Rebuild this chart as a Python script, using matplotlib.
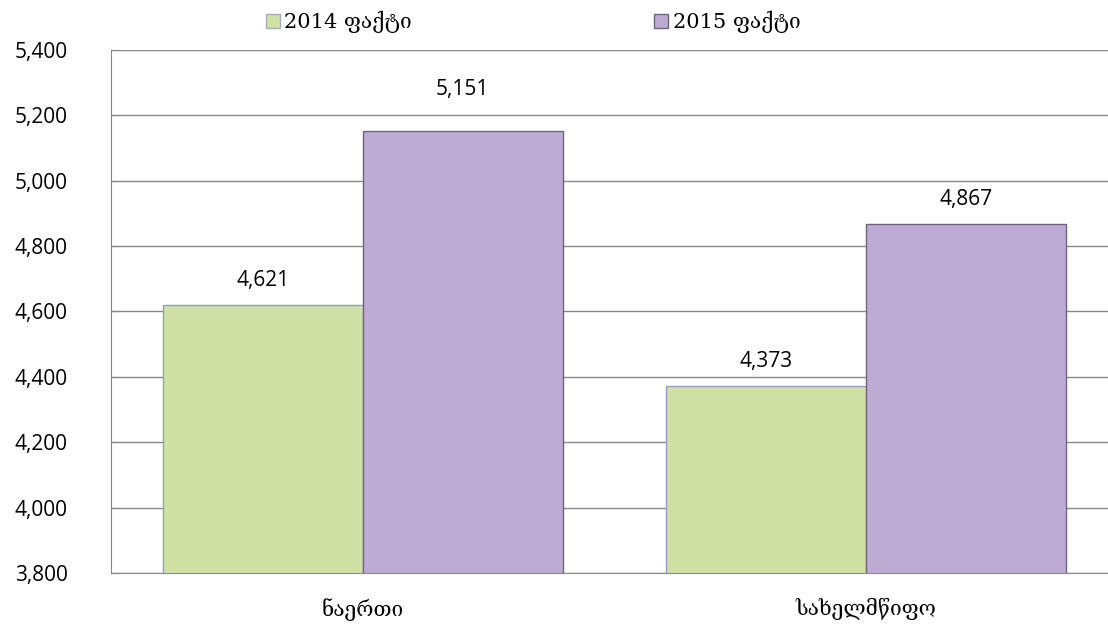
import numpy as np
import matplotlib.pyplot as plt
from matplotlib.patches import Patch

categories = ["ნაერთი", "სახელმწიფო"]
series_names = ["2014 ფაქტი", "2015 ფაქტი"]
values_2014 = [4621, 4373]
values_2015 = [5151, 4867]

GREEN = "#D1E1A6"
PURPLE = "#BDABD3"
SERIF = ["DejaVu Serif", "DejaVu Sans"]

plt.rcParams["font.family"] = ["Open Sans", "DejaVu Sans"]

fig = plt.figure(figsize=(11.08, 6.26), dpi=100)
ax = fig.add_axes([111 / 1108, 1 - 573 / 626, (1108 - 111) / 1108, (573 - 50) / 626])

x = np.arange(len(categories))
width = 200 / 504

bars1 = ax.bar(x - width / 2, values_2014, width, color=GREEN,
               edgecolor="#8FA3BF", linewidth=1.0, zorder=3)
bars2 = ax.bar(x + width / 2, values_2015, width, color=PURPLE,
               edgecolor="#6E6480", linewidth=1.0, zorder=3)

# label offsets (data units) above each bar; the tallest label sits a bit higher
label_offsets = [[42, 42], [95, 42]]
for bars, offs in zip((bars1, bars2), label_offsets):
    for b, off in zip(bars, offs):
        h = b.get_height()
        ax.text(b.get_x() + b.get_width() / 2, h + off, f"{h:,.0f}",
                ha="center", va="bottom", fontsize=15, color="#000000")

ax.set_ylim(3800, 5400)
ax.set_yticks(np.arange(3800, 5401, 200))
ax.set_yticklabels([f"{v:,}" for v in range(3800, 5401, 200)], fontsize=15)
ax.set_xlim(-0.5, 1.5 - 10 / 504)
ax.set_xticks(x)
ax.set_xticklabels(categories, fontsize=15, family=SERIF)
ax.tick_params(axis="x", length=0, pad=18)
ax.tick_params(axis="y", length=6, direction="in", pad=31, color="#888888")

ax.grid(axis="y", color="#888888", linewidth=1.0, zorder=0)
for side in ("top", "right"):
    ax.spines[side].set_visible(False)
ax.spines["left"].set_color("#888888")
ax.spines["bottom"].set_color("#888888")

handles = [Patch(facecolor=GREEN, edgecolor="#A0B0C0"),
           Patch(facecolor=PURPLE, edgecolor="#6E6480")]
fig.legend(handles, series_names, loc="center", bbox_to_anchor=(0.481, 0.965),
           ncol=2, frameon=False, prop={"family": SERIF, "size": 15},
           handlelength=0.7, handleheight=0.7, handletextpad=0.2, columnspacing=11.6)

fig.savefig("out.png", dpi=100)
